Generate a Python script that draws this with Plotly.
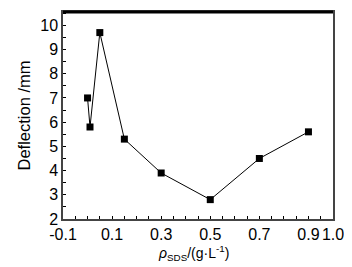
import plotly.graph_objects as go

x_sds = [0.0, 0.01, 0.05, 0.15, 0.3, 0.5, 0.7, 0.9]
deflection = [7.0, 5.8, 9.7, 5.3, 3.9, 2.8, 4.5, 5.6]
x_tick_vals = [-0.1, 0.1, 0.3, 0.5, 0.7, 0.9, 1.0]
x_tick_text = ["-0.1", "0.1", "0.3", "0.5", "0.7", "0.9", "1.0"]
y_tick_vals = [2, 3, 4, 5, 6, 7, 8, 9, 10]

fig = go.Figure()
fig.add_trace(go.Scatter(
    x=x_sds, y=deflection, mode="lines+markers",
    line=dict(color="black", width=1),
    marker=dict(symbol="square", size=7, color="black"),
    showlegend=False,
))

fam = "Liberation Sans"
tick_font = dict(family=fam, size=16, color="black")
ytitle_font = dict(family=fam, size=16.5, color="black")
xtitle_font = dict(family=fam, size=14, color="black")

# page body has an 8px margin, so the figure is sized to fit the window after it
fig.update_layout(
    width=344, height=259,
    margin=dict(l=55, r=19, t=4, b=48),
    paper_bgcolor="white", plot_bgcolor="white",
    font=tick_font,
    xaxis=dict(
        range=[-0.1, 1.0], tickvals=x_tick_vals, ticktext=x_tick_text,
        tickangle=0, automargin=False,
        ticks="inside", ticklen=3, tickwidth=1, tickcolor="black",
        minor=dict(dtick=0.05, tick0=0, ticks="inside", ticklen=3, tickcolor="black"),
        showline=True, linecolor="#444", linewidth=1.5, mirror=True,
        showgrid=False, zeroline=False, tickfont=tick_font,
    ),
    yaxis=dict(
        range=[2, 10.55], tickvals=y_tick_vals, automargin=False,
        ticks="inside", ticklen=3, tickwidth=1, tickcolor="black",
        minor=dict(dtick=0.5, tick0=0, ticks="inside", ticklen=3, tickcolor="black"),
        showline=True, linecolor="#444", linewidth=1.5, mirror=True,
        showgrid=False, zeroline=False, tickfont=tick_font,
        title=dict(text="Deflection /mm", font=ytitle_font, standoff=5),
    ),
)

fig.add_shape(type="line", xref="paper", yref="paper", x0=0, x1=1, y0=1, y1=1,
              line=dict(color="black", width=3))

fig.add_annotation(
    text="<i>ρ</i><sub>SDS</sub>/(g·L<sup>-1</sup>)",
    xref="paper", yref="paper", x=0.485, y=-0.105, yanchor="top",
    showarrow=False, font=xtitle_font,
)

fig.write_html("out.html")
